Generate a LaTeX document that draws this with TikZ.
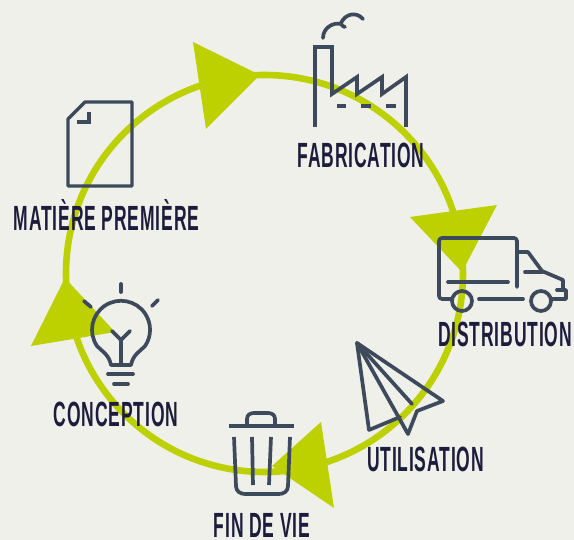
\documentclass[tikz,border=0pt]{standalone}
\usepackage{fontspec}
\newfontfamily\labelfont[FakeStretch=0.5,LetterSpace=2.4]{Liberation Sans Bold}
\definecolor{bgc}{HTML}{EFF0E9}
\definecolor{lime}{HTML}{BDD000}
\definecolor{iconc}{HTML}{3D4A5C}
\definecolor{textc}{HTML}{1E1B3C}
\tikzset{
  ringline/.style={draw=lime,line width=6.6pt},
  pointer/.style={fill=lime,draw=none},
  icon/.style={draw=iconc,line width=3.7pt,line cap=round,line join=round},
  iconmiter/.style={draw=iconc,line width=3.7pt,line cap=butt,line join=miter},
  lbl/.style={text=textc,inner sep=0pt,outer sep=0pt,anchor=base,font=\labelfont\fontsize{35}{35}\selectfont}
}
\begin{document}
\begin{tikzpicture}[x=1pt,y=-1pt]
\useasboundingbox[fill=bgc] (0,0) rectangle (574,540);
% ring
\coordinate (ringc) at (264.5,273.5);
\draw[ringline] (ringc) circle[radius=198.5];
% pointers
\fill[pointer] (193,42) -- (260,75) -- (206,129) -- cycle;
\fill[pointer] (410,217) -- (497,205) -- (462,272) -- cycle;
\fill[pointer] (321,422) -- (334,508) -- (272,466) -- cycle;
\fill[pointer] (65,278) -- (31,346) -- (115,332) -- cycle;
% paper
\draw[icon,line width=3.4pt] (68,119) -- (85,102) -- (132,102) -- (132,186) -- (68,186) -- cycle;
\draw[iconmiter,line width=3.4pt] (77,122) -- (89,122) -- (89,112);
% factory
\draw[iconmiter] (315,127) -- (315,47) -- (332,47) -- (332,94) -- (357,77) -- (357,94) -- (382,77) -- (382,94) -- (406,77) -- (406,127);
\draw[iconmiter] (337,106) -- (346,106) (361,106) -- (371,106) (386,106) -- (396,106);
\draw[icon] (323,38) .. controls (323,28) and (333,22) .. (341,24) .. controls (342,26) and (344,27) .. (345,27);
\draw[icon] (341,23) .. controls (345,14) and (356,11) .. (363,19);
% truck
\draw[icon] (517,287) -- (517,241) arc[start angle=0,end angle=-90,radius=3] -- (442,238) arc[start angle=-90,end angle=-180,radius=3] -- (439,296) arc[start angle=180,end angle=90,radius=3] -- (452,299);
\draw[icon] (517,252) -- (528,252) -- (542,271) -- (563,280) -- (563,290);
\draw[icon] (525,272) -- (542,272);
\draw[icon] (557,290) -- (566,290) -- (566,299) -- (552,299);
\draw[icon] (448,282) -- (508,282);
\draw[icon] (479,299) -- (523,299);
\draw[icon] (462,301) circle[radius=10];
\draw[icon] (541,301) circle[radius=10];
% plane
\draw[icon] (357,343) -- (443,401) -- (417,411) -- (408,434) -- cycle;
\draw[icon] (357,343) -- (369,430) -- (400,417);
\draw[icon] (357,343) -- (412,404);
% bin
\draw[iconmiter] (229,426) -- (294,426);
\draw[icon,line cap=butt] (247,426) -- (247,419) .. controls (247,415) and (250,413) .. (254,413) -- (268,413) .. controls (272,413) and (275,415) .. (275,419) -- (275,426);
\draw[iconmiter] (234,437) -- (236,486) .. controls (236,491) and (240,494) .. (245,494) -- (279,494) .. controls (284,494) and (288,491) .. (288,486) -- (290,437);
\draw[iconmiter] (252,437) -- (253,485);
\draw[iconmiter] (271,437) -- (269,485);
% bulb
\draw[icon] (111,365) .. controls (109,355) and (103,352) .. (97,346) arc[start angle=146,end angle=394,radius=29] .. controls (139,352) and (133,355) .. (131,365) -- cycle;
\draw[icon] (112,331) -- (121,340) -- (130,331);
\draw[icon] (121,340) -- (121,365);
\draw[icon] (108,374) -- (133,374);
\draw[icon] (114,384) -- (128,384);
\draw[icon] (121,284) -- (121,292);
\draw[icon] (84,301) -- (91,307);
\draw[icon] (158,300) -- (152,306);
% labels
\node[lbl] (fab) at (361,168) {FABRICATION};
\node[lbl] (mat) at (106.5,231) {MATIÈRE PREMIÈRE};
\node[lbl] (dis) at (505,347) {DISTRIBUTION};
\node[lbl] (uti) at (425.5,472) {UTILISATION};
\node[lbl] (con) at (116,427) {CONCEPTION};
\node[lbl] (fin) at (262,537) {FIN DE VIE};
\end{tikzpicture}
\end{document}
